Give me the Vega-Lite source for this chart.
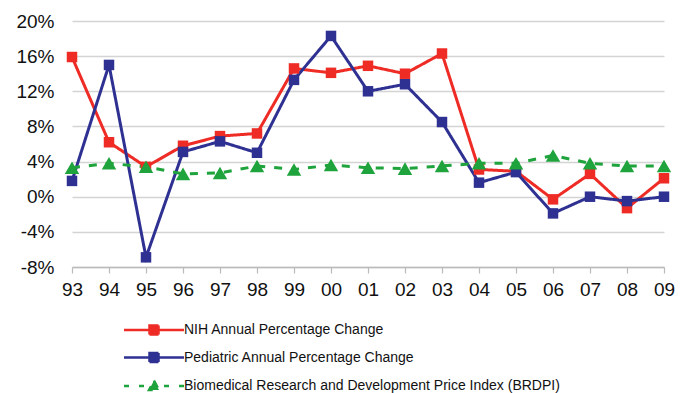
{
  "$schema": "https://vega.github.io/schema/vega-lite/v6.json",
  "width": 592,
  "height": 246,
  "autosize": "none",
  "padding": {"left": 72, "top": 21, "right": 25, "bottom": 126},
  "background": "white",
  "config": {"view": {"stroke": null}, "font": "Liberation Sans"},
  "data": {
    "values": [
      {"year": "93", "series": "NIH Annual Percentage Change", "value": 15.9},
      {"year": "94", "series": "NIH Annual Percentage Change", "value": 6.2},
      {"year": "95", "series": "NIH Annual Percentage Change", "value": 3.4},
      {"year": "96", "series": "NIH Annual Percentage Change", "value": 5.8},
      {"year": "97", "series": "NIH Annual Percentage Change", "value": 6.9},
      {"year": "98", "series": "NIH Annual Percentage Change", "value": 7.2},
      {"year": "99", "series": "NIH Annual Percentage Change", "value": 14.6},
      {"year": "00", "series": "NIH Annual Percentage Change", "value": 14.1},
      {"year": "01", "series": "NIH Annual Percentage Change", "value": 14.9},
      {"year": "02", "series": "NIH Annual Percentage Change", "value": 14.0},
      {"year": "03", "series": "NIH Annual Percentage Change", "value": 16.3},
      {"year": "04", "series": "NIH Annual Percentage Change", "value": 3.1},
      {"year": "05", "series": "NIH Annual Percentage Change", "value": 2.9},
      {"year": "06", "series": "NIH Annual Percentage Change", "value": -0.3},
      {"year": "07", "series": "NIH Annual Percentage Change", "value": 2.6},
      {"year": "08", "series": "NIH Annual Percentage Change", "value": -1.3},
      {"year": "09", "series": "NIH Annual Percentage Change", "value": 2.1},
      {"year": "93", "series": "Pediatric Annual Percentage Change", "value": 1.8},
      {"year": "94", "series": "Pediatric Annual Percentage Change", "value": 15.0},
      {"year": "95", "series": "Pediatric Annual Percentage Change", "value": -6.9},
      {"year": "96", "series": "Pediatric Annual Percentage Change", "value": 5.1},
      {"year": "97", "series": "Pediatric Annual Percentage Change", "value": 6.3},
      {"year": "98", "series": "Pediatric Annual Percentage Change", "value": 5.0},
      {"year": "99", "series": "Pediatric Annual Percentage Change", "value": 13.3},
      {"year": "00", "series": "Pediatric Annual Percentage Change", "value": 18.3},
      {"year": "01", "series": "Pediatric Annual Percentage Change", "value": 12.0},
      {"year": "02", "series": "Pediatric Annual Percentage Change", "value": 12.8},
      {"year": "03", "series": "Pediatric Annual Percentage Change", "value": 8.5},
      {"year": "04", "series": "Pediatric Annual Percentage Change", "value": 1.6},
      {"year": "05", "series": "Pediatric Annual Percentage Change", "value": 2.8},
      {"year": "06", "series": "Pediatric Annual Percentage Change", "value": -1.9},
      {"year": "07", "series": "Pediatric Annual Percentage Change", "value": 0.0},
      {"year": "08", "series": "Pediatric Annual Percentage Change", "value": -0.5},
      {"year": "09", "series": "Pediatric Annual Percentage Change", "value": 0.0},
      {"year": "93", "series": "Biomedical Research and Development Price Index (BRDPI)", "value": 3.3},
      {"year": "94", "series": "Biomedical Research and Development Price Index (BRDPI)", "value": 3.8},
      {"year": "95", "series": "Biomedical Research and Development Price Index (BRDPI)", "value": 3.4},
      {"year": "96", "series": "Biomedical Research and Development Price Index (BRDPI)", "value": 2.6},
      {"year": "97", "series": "Biomedical Research and Development Price Index (BRDPI)", "value": 2.7},
      {"year": "98", "series": "Biomedical Research and Development Price Index (BRDPI)", "value": 3.5},
      {"year": "99", "series": "Biomedical Research and Development Price Index (BRDPI)", "value": 3.1},
      {"year": "00", "series": "Biomedical Research and Development Price Index (BRDPI)", "value": 3.6},
      {"year": "01", "series": "Biomedical Research and Development Price Index (BRDPI)", "value": 3.3},
      {"year": "02", "series": "Biomedical Research and Development Price Index (BRDPI)", "value": 3.2},
      {"year": "03", "series": "Biomedical Research and Development Price Index (BRDPI)", "value": 3.5},
      {"year": "04", "series": "Biomedical Research and Development Price Index (BRDPI)", "value": 3.8},
      {"year": "05", "series": "Biomedical Research and Development Price Index (BRDPI)", "value": 3.8},
      {"year": "06", "series": "Biomedical Research and Development Price Index (BRDPI)", "value": 4.7},
      {"year": "07", "series": "Biomedical Research and Development Price Index (BRDPI)", "value": 3.8},
      {"year": "08", "series": "Biomedical Research and Development Price Index (BRDPI)", "value": 3.5},
      {"year": "09", "series": "Biomedical Research and Development Price Index (BRDPI)", "value": 3.5}
    ]
  },
  "encoding": {
    "x": {
      "field": "year", "type": "ordinal", "sort": null,
      "scale": {"type": "point", "padding": 0},
      "axis": {
        "title": null, "labelAngle": 0, "labelFontSize": 19, "labelColor": "#111",
        "domainColor": "#bbbbbb", "domainWidth": 1.5, "tickColor": "#bbbbbb", "tickSize": 6, "tickWidth": 1.2,
        "labelPadding": 7, "grid": false
      }
    },
    "y": {
      "field": "value", "type": "quantitative",
      "scale": {"domain": [-8, 20], "nice": false},
      "axis": {
        "title": null, "values": [-8, -4, 0, 4, 8, 12, 16, 20],
        "labelExpr": "datum.value + '%'", "labelFontSize": 19, "labelColor": "#111",
        "domain": false, "ticks": false, "labelPadding": 18,
        "grid": true, "gridColor": "#d4d4d4", "gridWidth": 1.5
      }
    }
  },
  "layer": [
    {
      "mark": {"type": "line", "strokeWidth": 3},
      "encoding": {
        "strokeDash": {
          "field": "series", "type": "nominal",
          "scale": {
            "domain": ["NIH Annual Percentage Change", "Pediatric Annual Percentage Change", "Biomedical Research and Development Price Index (BRDPI)"],
            "range": [[1, 0], [1, 0], [8, 9]]
          },
          "legend": null
        },
        "stroke": {
          "field": "series", "type": "nominal",
          "scale": {
            "domain": ["NIH Annual Percentage Change", "Pediatric Annual Percentage Change", "Biomedical Research and Development Price Index (BRDPI)"],
            "range": ["#ee2b24", "#2e3192", "#1fa33c"]
          },
          "legend": {
            "title": null, "orient": "none", "legendX": 75, "legendY": 302,
            "direction": "vertical", "padding": 0, "labelFontSize": 14, "labelColor": "#111",
            "labelOffset": 23, "rowPadding": 7.5, "symbolSize": 100, "symbolStrokeWidth": 2.5,
            "labelLimit": 500,
            "symbolType": "M-6,0H6M-0.9,-0.9H0.9V0.9H-0.9Z",
            "encode": {
              "symbols": {
                "update": {
                  "shape": {"signal": "datum.value === 'Biomedical Research and Development Price Index (BRDPI)' ? 'M-6,0H-5M-3,0H-2M2,0H3M5,0H6M0,-1.1L1,0.8L-1,0.8Z' : 'M-6,0H6M-0.9,-0.9H0.9V0.9H-0.9Z'"},
                  "fill": {"scale": "stroke", "field": "value"},
                  "strokeDash": {"value": [1, 0]},
                  "opacity": {"value": 1}
                }
              }
            }
          }
        }
      }
    },
    {
      "transform": [{"filter": "datum.series === 'NIH Annual Percentage Change'"}],
      "mark": {"type": "point", "filled": true, "opacity": 1, "shape": "square", "size": 110, "color": "#ee2b24"}
    },
    {
      "transform": [{"filter": "datum.series === 'Pediatric Annual Percentage Change'"}],
      "mark": {"type": "point", "filled": true, "opacity": 1, "shape": "square", "size": 110, "color": "#2e3192"}
    },
    {
      "transform": [{"filter": "datum.series === 'Biomedical Research and Development Price Index (BRDPI)'"}],
      "mark": {"type": "point", "filled": true, "opacity": 1, "shape": "triangle-up", "size": 210, "color": "#1fa33c"}
    }
  ]
}
